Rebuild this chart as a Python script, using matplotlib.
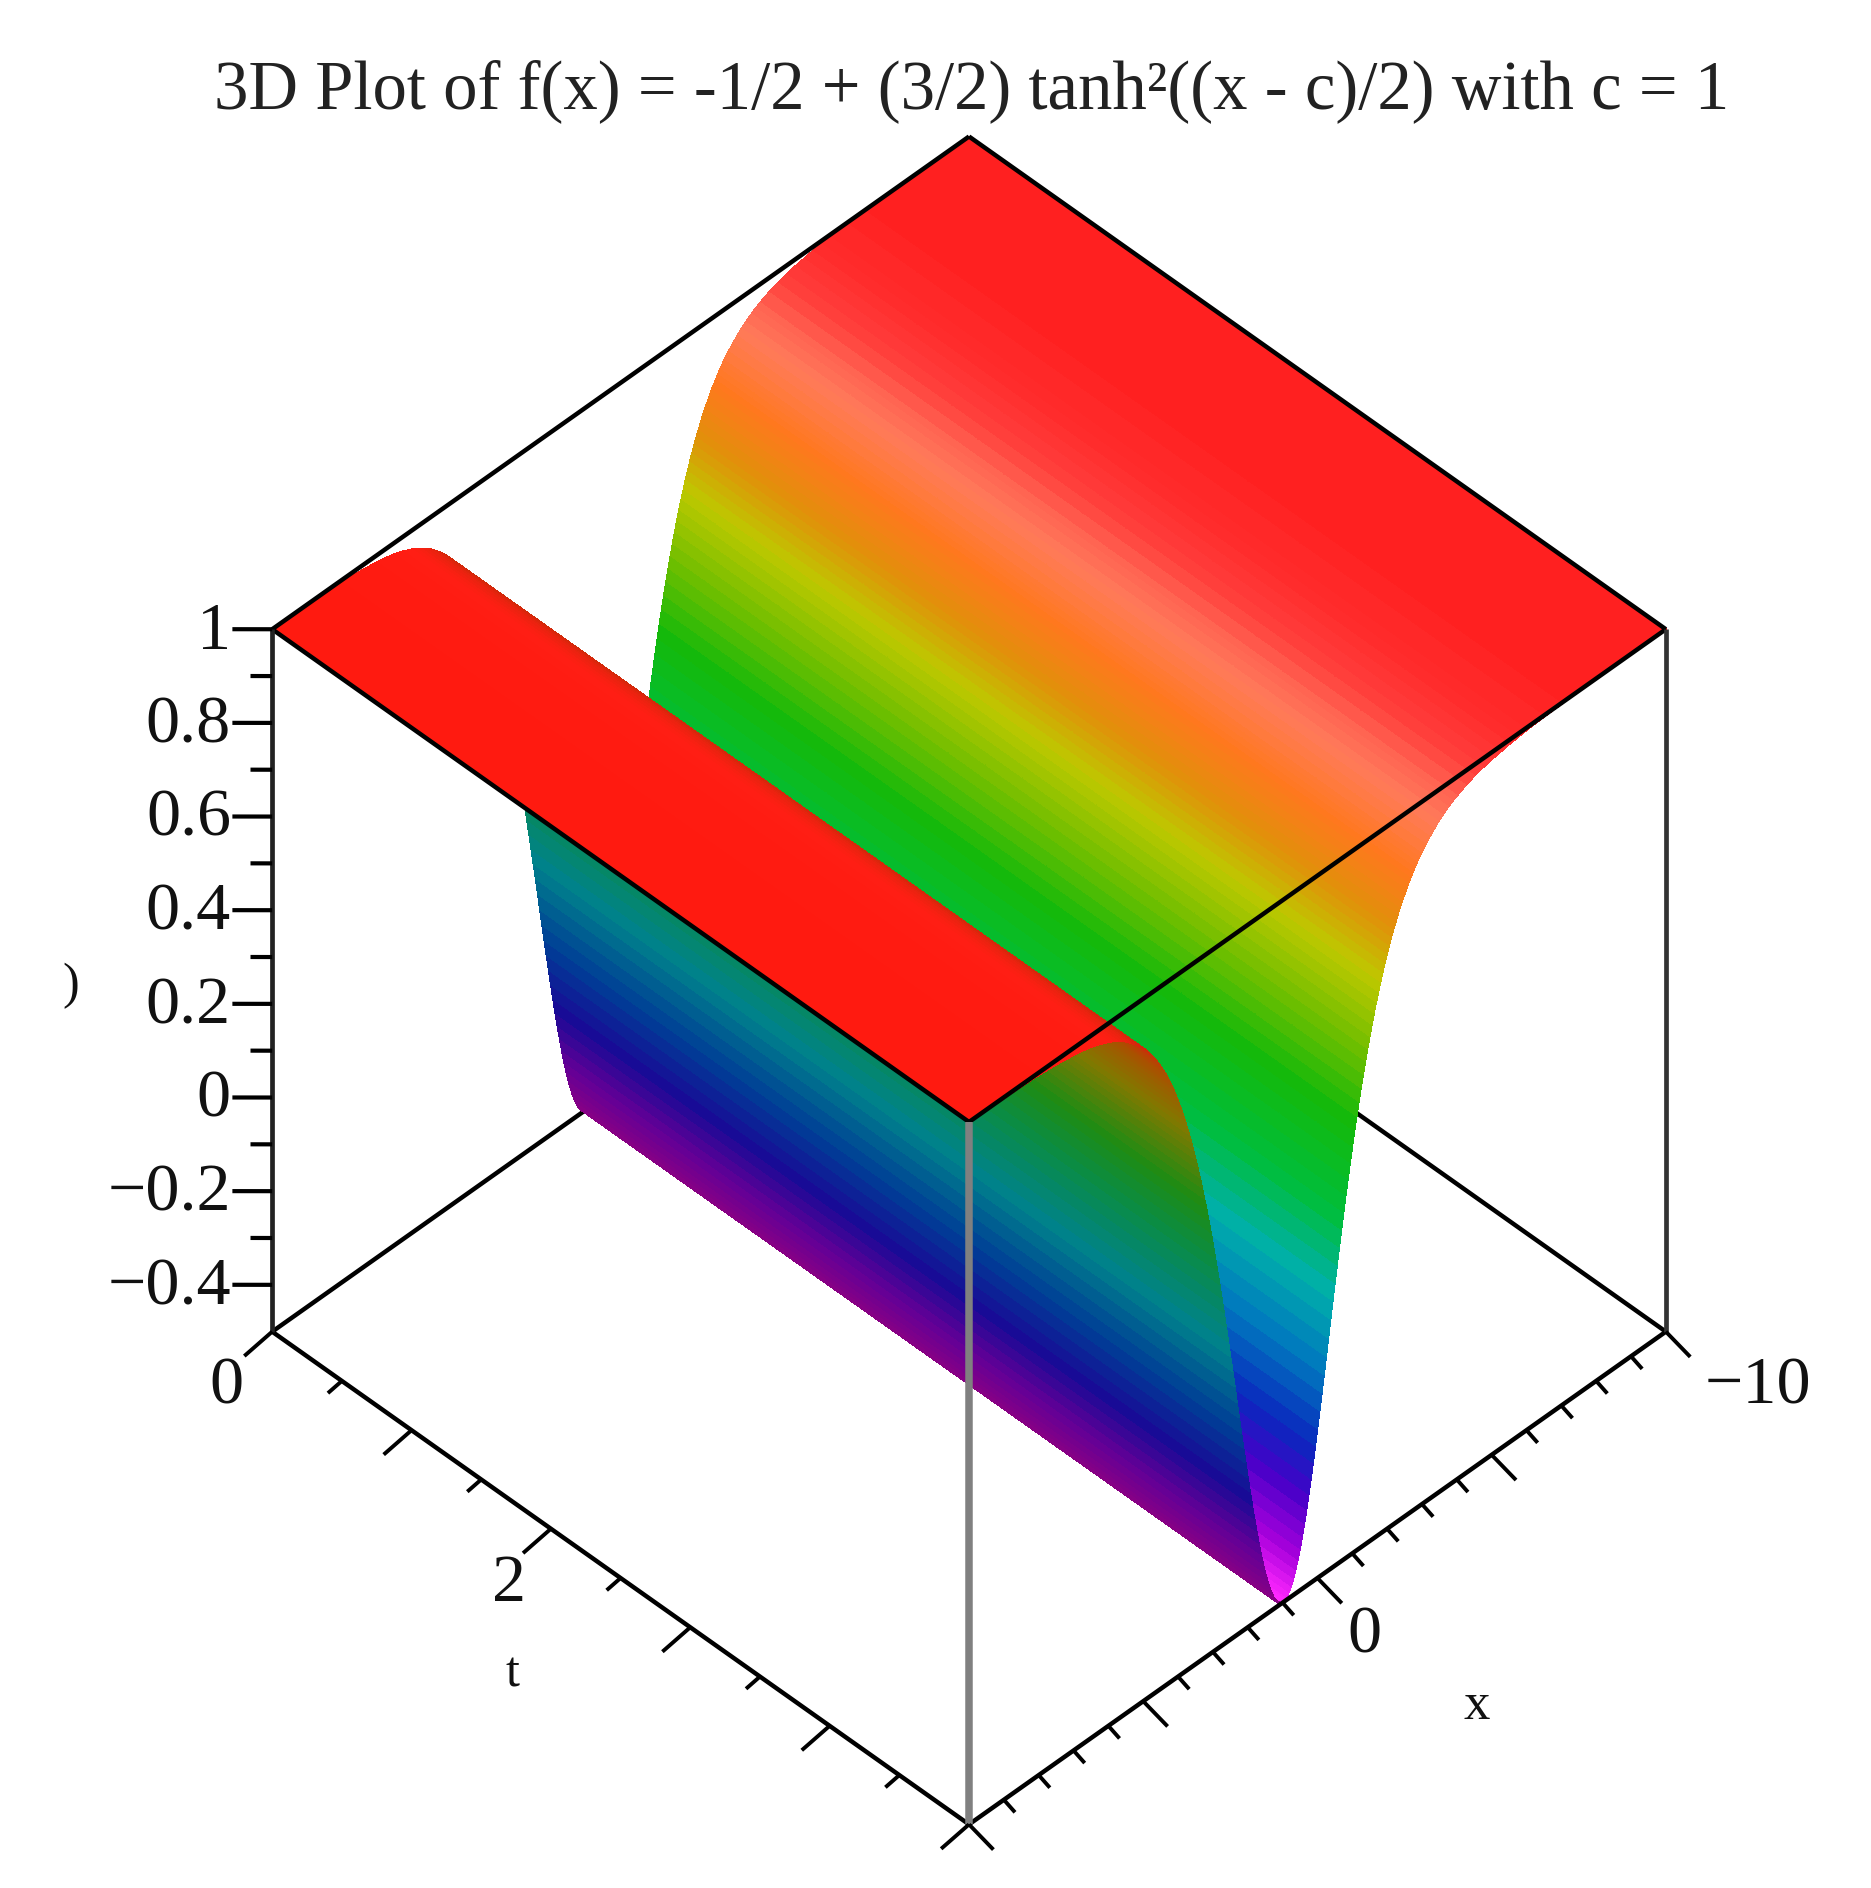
import numpy as np
import matplotlib
matplotlib.use('Agg')
import matplotlib.pyplot as plt
from matplotlib.colors import LinearSegmentedColormap
from mpl_toolkits.mplot3d import proj3d

# profile of the surface: distance from the trough at x = 1
dist = [0, 0.0625, 0.125, 0.1875, 0.25, 0.3125, 0.375, 0.4375, 0.5, 0.5625, 0.625, 0.6875,
        0.75, 0.8125, 0.875, 0.9375, 1.0, 1.0625, 1.125, 1.1875, 1.25, 1.3125, 1.375, 1.4375,
        1.5, 1.5625, 1.625, 1.6875, 1.75, 1.8125, 1.875, 1.9375, 2.0, 2.0625, 2.125, 2.1875,
        2.25, 2.3125, 2.375, 2.4375, 2.5, 2.5625, 2.625, 2.6875, 2.75, 2.8125, 2.875, 2.9375,
        3.0, 3.0625, 3.125, 3.1875, 3.25, 3.3125, 3.375, 3.4375, 3.5, 3.5625, 3.625, 3.6875,
        3.75, 3.8125, 3.875, 3.9375, 4.0, 4.125, 4.25, 4.375, 4.5, 4.625, 4.75, 4.875, 5.0,
        5.25, 5.5, 5.75, 6.0, 6.25, 6.5, 6.75, 7.0, 7.25, 7.5, 7.75, 8.0, 9.0, 11.0]
height = [-0.5, -0.498, -0.494, -0.486, -0.477, -0.463, -0.448, -0.43, -0.41, -0.387, -0.363, -0.336,
          -0.307, -0.277, -0.246, -0.213, -0.18, -0.145, -0.11, -0.075, -0.039, -0.003, 0.034, 0.07,
          0.105, 0.14, 0.175, 0.209, 0.243, 0.276, 0.308, 0.339, 0.37, 0.4, 0.428, 0.456,
          0.482, 0.508, 0.533, 0.556, 0.579, 0.601, 0.622, 0.642, 0.661, 0.679, 0.697, 0.713,
          0.729, 0.744, 0.759, 0.772, 0.784, 0.797, 0.809, 0.819, 0.829, 0.839, 0.849, 0.857,
          0.865, 0.873, 0.881, 0.888, 0.894, 0.906, 0.916, 0.926, 0.935, 0.942, 0.949, 0.955, 0.96,
          0.969, 0.976, 0.981, 0.985, 0.988, 0.991, 0.993, 0.995, 0.996, 0.997, 0.9975, 0.998, 0.999, 1.0]
trough = 1.0
t_vals = [0, 0.25, 0.5, 0.75, 1, 1.25, 1.5, 1.75, 2, 2.25, 2.5, 2.75, 3, 3.25, 3.5, 3.75, 4,
          4.25, 4.5, 4.75, 5]

z_ticks = [1, 0.8, 0.6, 0.4, 0.2, 0, -0.2, -0.4]
z_labels = ['1', '0.8', '0.6', '0.4', '0.2', '0', '\u22120.2', '\u22120.4']
z_minor = [0.9, 0.7, 0.5, 0.3, 0.1, -0.1, -0.3]
t_major = [0, 1, 2, 3, 4, 5]
t_minor = [0.5, 1.5, 2.5, 3.5, 4.5]
x_major = [10, 5, 0, -5, -10]
x_minor = [9, 8, 7, 6, 4, 3, 2, 1, -1, -2, -3, -4, -6, -7, -8, -9]

# colours against height: top side and underside of the sheet
top_stops = [(-0.5, '#ff28ff'), (-0.42, '#aa00dc'), (-0.3, '#4600c8'), (-0.2, '#0a28be'),
             (-0.05, '#0078be'), (0.1, '#00afaa'), (0.25, '#00be3c'), (0.43, '#14b90a'),
             (0.56, '#6ebe00'), (0.69, '#bec800'), (0.78, '#e1900a'), (0.865, '#ff781e'),
             (0.91, '#ff7a40'), (0.94, '#ff7a5a'), (0.965, '#ff6050'), (0.985, '#ff3a38'),
             (0.997, '#ff2828'), (1.0, '#ff2020')]
under_stops = [(-0.5, '#8c0082'), (-0.38, '#640096'), (-0.25, '#190a96'), (-0.1, '#003c96'),
               (0.1, '#00828c'), (0.3, '#0a8c46'), (0.45, '#1e8c14'), (0.65, '#827800'),
               (0.8, '#aa5000'), (0.9, '#d2280a'), (0.96, '#ff1e14'), (1.0, '#ff1a10')]


def make_cmap(stops):
    return LinearSegmentedColormap.from_list(
        'h', [((z + 0.5) / 1.5, c) for z, c in stops], N=1024)


dist = np.array(dist)
height = np.array(height)
right = dist <= 9
x_all = np.concatenate([trough - dist[::-1], trough + dist[right][1:]])
z_all = np.concatenate([height[::-1], height[right][1:]])

X, T = np.meshgrid(x_all, t_vals)
Z = np.tile(z_all, (len(t_vals), 1))

top_cmap = make_cmap(top_stops)
under_cmap = make_cmap(under_stops)
colors = top_cmap((Z + 0.5) / 1.5)
under = under_cmap((Z + 0.5) / 1.5)
colors[X > trough] = under[X > trough]

plt.rcParams['font.family'] = 'Liberation Serif'

fig = plt.figure(figsize=(18.71, 18.88), dpi=100)
ax = fig.add_axes([0.0044, -0.0327, 1, 1], projection='3d', proj_type='ortho')
ax.computed_zorder = False
ax.set_box_aspect((1, 1, 1.008), zoom=0.888)
ax.view_init(elev=45, azim=45)
ax.set_xlim(-10, 10, view_margin=0)
ax.set_ylim(0, 5, view_margin=0)
ax.set_zlim(-0.5, 1, view_margin=0)
ax.set_axis_off()

ax.plot_surface(X, T, Z, facecolors=colors, rstride=1, cstride=1, shade=False,
                linewidth=0.6, antialiased=False, zorder=2)


def seg(p, q, color='black', lw=3.2, zorder=3):
    line, = ax.plot([p[0], q[0]], [p[1], q[1]], [p[2], q[2]], color=color, lw=lw,
                    zorder=zorder, solid_capstyle='butt')
    line.set_clip_on(False)


def label(x, y, z, s, size, ha='center'):
    # project once so the text sits in plain 2D axes coordinates
    px, py, _ = proj3d.proj_transform(x, y, z, ax.get_proj())
    ax.text2D(px, py, s, transform=ax.transData, ha=ha, va='center', fontsize=size,
              color='#111111', zorder=5, clip_on=False)


# frame
seg((10, 0, -0.5), (-10, 0, -0.5), zorder=1)
seg((-10, 0, -0.5), (-10, 5, -0.5), zorder=1)
seg((-10, 0, -0.5), (-10, 0, 1), zorder=1)
seg((10, 0, 1), (-10, 0, 1))
seg((-10, 0, 1), (-10, 5, 1))
seg((10, 0, 1), (10, 5, 1))
seg((10, 5, 1), (-10, 5, 1))
seg((10, 0, -0.5), (10, 5, -0.5))
seg((10, 5, -0.5), (-10, 5, -0.5))
seg((10, 0, -0.5), (10, 0, 1), color='#222222', lw=3.4)
seg((-10, 5, -0.5), (-10, 5, 1), color='#333333', lw=3.4)
seg((10, 5, -0.5), (10, 5, 1), color='#808080', lw=5.4)

# ticks
for z in z_ticks:
    seg((10, 0, z), (10.57, -0.143, z), lw=3.0)
for z in z_minor:
    seg((10, 0, z), (10.31, -0.078, z), lw=3.0)
for t in t_major:
    seg((10, t, -0.5), (10.8, t, -0.51), lw=2.8)
for t in t_minor:
    seg((10, t, -0.5), (10.4, t, -0.505), lw=2.8)
for x in x_major:
    seg((x, 5, -0.5), (x, 5.175, -0.517), lw=2.8)
for x in x_minor:
    seg((x, 5, -0.5), (x, 5.08, -0.51), lw=2.8)

# labels
tick_size = 49
for z, lab in zip(z_ticks, z_labels):
    label(10.59, -0.148, z - 0.006, lab, tick_size, ha='right')
label(11.77, 0.114, -0.5, '0', tick_size)
label(11.73, 2.13, -0.5, '2', tick_size)
label(13.49, 2.6, -0.5, 't', 36)
label(0.5, 5.46, -0.5, '0', tick_size)
label(-10.2, 5.61, -0.5, '\u221210', tick_size)
label(0.3, 6.22, -0.5, 'x', 38)

fig.text(71 / 1871, 1 - 986 / 1888, ')', ha='center', va='center', fontsize=36, color='#111111')
fig.text(972 / 1871, 1 - 91 / 1888, '3D Plot of f(x) = -1/2 + (3/2) tanh\u00b2((x - c)/2) with c = 1',
         ha='center', va='center', fontsize=49.5, color='#222222')

fig.savefig('out.png', dpi=100)
